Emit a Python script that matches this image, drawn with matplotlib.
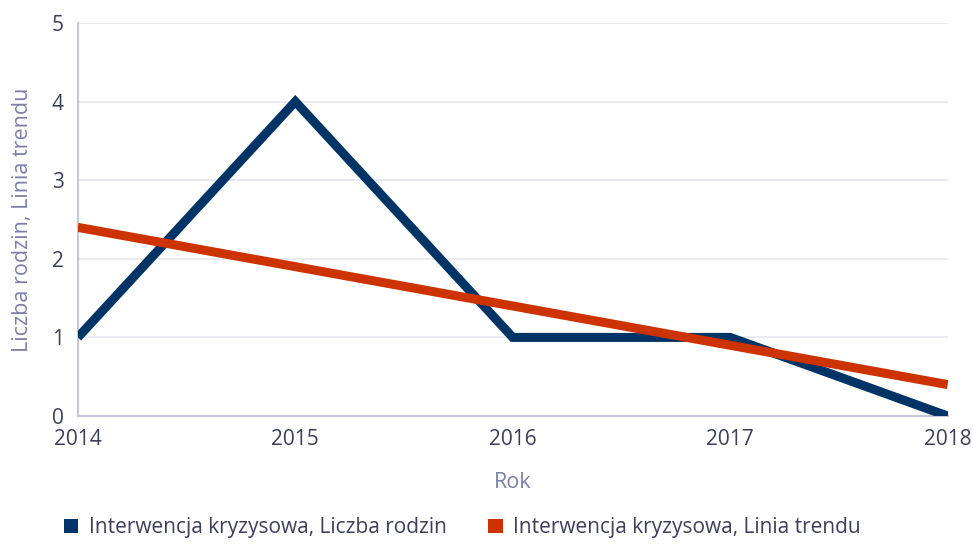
import matplotlib.pyplot as plt
from matplotlib.patches import Patch

# data
years = [2014, 2015, 2016, 2017, 2018]
families = [1, 4, 1, 1, 0]
trend = [2.4, 1.9, 1.4, 0.9, 0.4]
series_names = ["Interwencja kryzysowa, Liczba rodzin", "Interwencja kryzysowa, Linia trendu"]
colors = ["#003466", "#cc3300"]

plt.rcParams['font.family'] = ['Open Sans', 'DejaVu Sans']

fig = plt.figure(figsize=(9.73, 5.46), dpi=100)
ax = fig.add_axes([0.080, 0.238, 0.894, 0.720])

ax.plot(years, families, color=colors[0], lw=6.5, solid_joinstyle='miter', solid_capstyle='butt', zorder=3)
ax.plot(years, trend, color=colors[1], lw=6.5, solid_capstyle='butt', zorder=4)

ax.set_xlim(2014, 2018)
ax.set_ylim(0, 5)
ax.set_xticks(years)
ax.set_yticks(range(6))
ax.grid(axis='y', color='#e6e6ef', lw=1.2)
ax.set_axisbelow(True)

for s in ['top', 'right']:
    ax.spines[s].set_visible(False)
for s in ['left', 'bottom']:
    ax.spines[s].set_color('#c4c7d8')
    ax.spines[s].set_linewidth(1.5)

ax.tick_params(axis='both', length=0, labelsize=15, labelcolor='#3b4058')
ax.tick_params(axis='x', pad=9)
ax.tick_params(axis='y', pad=10)

ax.set_xlabel("Rok", fontsize=15.5, color='#7c80a8', labelpad=16)
ax.set_ylabel("Liczba rodzin, Linia trendu", fontsize=15.5, color='#7c80a8', labelpad=14)

handles = [Patch(facecolor=c) for c in colors]
fig.legend(handles, series_names, loc='lower center', bbox_to_anchor=(0.475, -0.02), ncol=2,
           frameon=False, fontsize=15, labelcolor='#3b4058', handlelength=0.7, handleheight=0.7,
           handletextpad=0.5, columnspacing=2.0)

fig.savefig("out.png", dpi=100)
